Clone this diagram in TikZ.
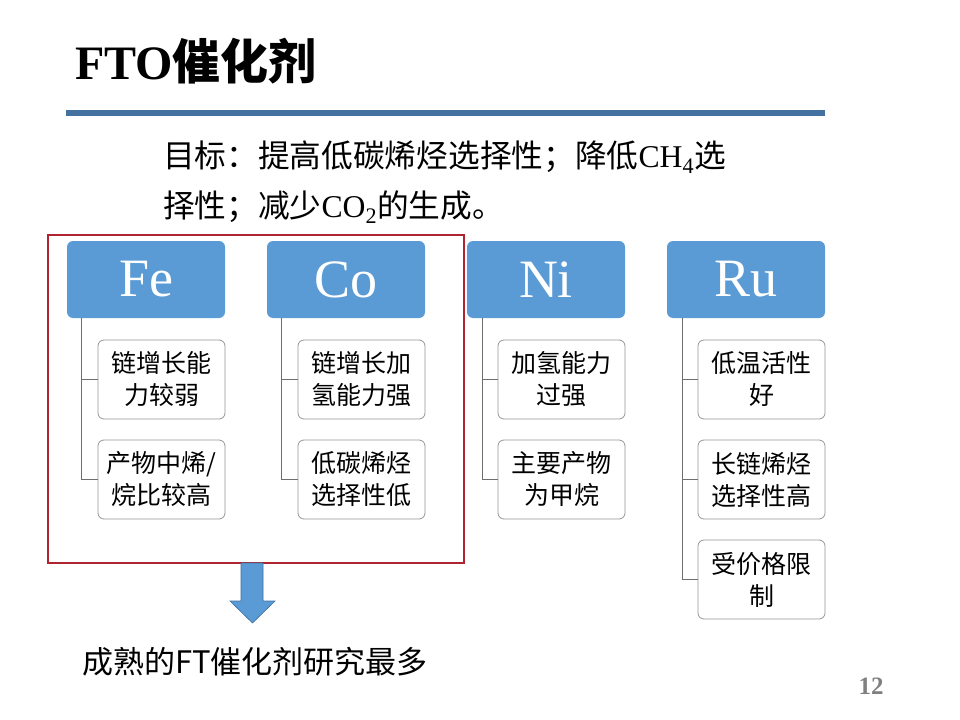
\documentclass[tikz,border=0pt]{standalone}
\usepackage{fontspec}
\setmainfont{Liberation Serif}
\newfontfamily\cjk{Noto Sans CJK SC}
\usepackage{tikz}
\definecolor{pdfcolor1}{RGB}{91,155,213}
\definecolor{pdfcolor2}{RGB}{68,114,160}
\definecolor{pdfcolor3}{RGB}{176,36,48}
\definecolor{pdfcolor4}{RGB}{150,150,150}
\definecolor{pdfcolor5}{RGB}{110,110,110}
\definecolor{pdfcolor6}{RGB}{128,128,128}
\definecolor{pdfcolor7}{RGB}{60,110,160}

\begin{document}
\begin{tikzpicture}[x=1bp,y=-1bp,inner sep=0pt,outer sep=0pt,
  head/.style={anchor=north west,fill=pdfcolor1,rounded corners=6bp,minimum width=158bp,minimum height=77bp,text=white,font=\fontsize{54bp}{60bp}\selectfont},
  leaf/.style={anchor=north west,draw=pdfcolor4,line width=0.8bp,fill=white,rounded corners=6bp,minimum width=127bp,minimum height=79bp,align=center,font=\cjk\fontsize{25bp}{32bp}\selectfont},
  link/.style={draw=pdfcolor5,line width=0.8bp}]
  \useasboundingbox (0,0) rectangle (960,720);
  \node[anchor=base west] (title) at (75,80) {{\fontsize{48bp}{56bp}\selectfont \textbf{FTO}{\cjk\bfseries 催化剂}}};
  \fill[fill=pdfcolor2] (66,110) rectangle (825,116);
  \node[anchor=west] (goal1) at (163,157) {{\fontsize{31.7bp}{36bp}\selectfont {\cjk 目标：提高低碳烯烃选择性；降低}CH\textsubscript{4}{\cjk 选}}};
  \node[anchor=west] (goal2) at (163,207) {{\fontsize{31.7bp}{36bp}\selectfont {\cjk 择性；减少}CO\textsubscript{2}{\cjk 的生成。}}};
  % red frame
  \draw[draw=pdfcolor3,line width=2.2bp] (48,235) rectangle (464,563);
  % headers
  \node[head] (fe) at (67,241) {Fe};
  \node[head] (co) at (267,241) {Co};
  \node[head] (ni) at (467,241) {Ni};
  \node[head] (ru) at (667,241) {Ru};
  % leaves
  \node[leaf] (fe1) at (98,340) {链增长能\\力较弱};
  \node[leaf] (fe2) at (98,440) {产物中烯/\\烷比较高};
  \node[leaf] (co1) at (298,340) {链增长加\\氢能力强};
  \node[leaf] (co2) at (298,440) {低碳烯烃\\选择性低};
  \node[leaf] (ni1) at (498,340) {加氢能力\\过强};
  \node[leaf] (ni2) at (498,440) {主要产物\\为甲烷};
  \node[leaf] (ru1) at (698,340) {低温活性\\好};
  \node[leaf] (ru2) at (698,440) {长链烯烃\\选择性高};
  \node[leaf] (ru3) at (698,540) {受价格限\\制};
  % connectors
  \draw[link] ([xshift=14bp]fe.south west) |- (fe1.west);
  \draw[link] ([xshift=14bp]fe.south west) |- (fe2.west);
  \draw[link] ([xshift=14bp]co.south west) |- (co1.west);
  \draw[link] ([xshift=14bp]co.south west) |- (co2.west);
  \draw[link] ([xshift=15bp]ni.south west) |- (ni1.west);
  \draw[link] ([xshift=15bp]ni.south west) |- (ni2.west);
  \draw[link] ([xshift=15bp]ru.south west) |- (ru1.west);
  \draw[link] ([xshift=15bp]ru.south west) |- (ru2.west);
  \draw[link] ([xshift=15bp]ru.south west) |- (ru3.west);
  % block arrow
  \draw[fill=pdfcolor1,draw=pdfcolor7,line width=0.6bp] (241,563) -- (263,563) -- (263,601) -- (275,601) -- (252.5,623) -- (230,601) -- (241,601) -- cycle;
  \node[anchor=west] (result) at (82,662) {{\cjk\fontsize{31bp}{36bp}\selectfont 成熟的FT催化剂研究最多}};
  \node (page) at (871,686) {{\fontsize{25bp}{30bp}\selectfont \textcolor{pdfcolor6}{\textbf{12}}}};
\end{tikzpicture}
\end{document}
